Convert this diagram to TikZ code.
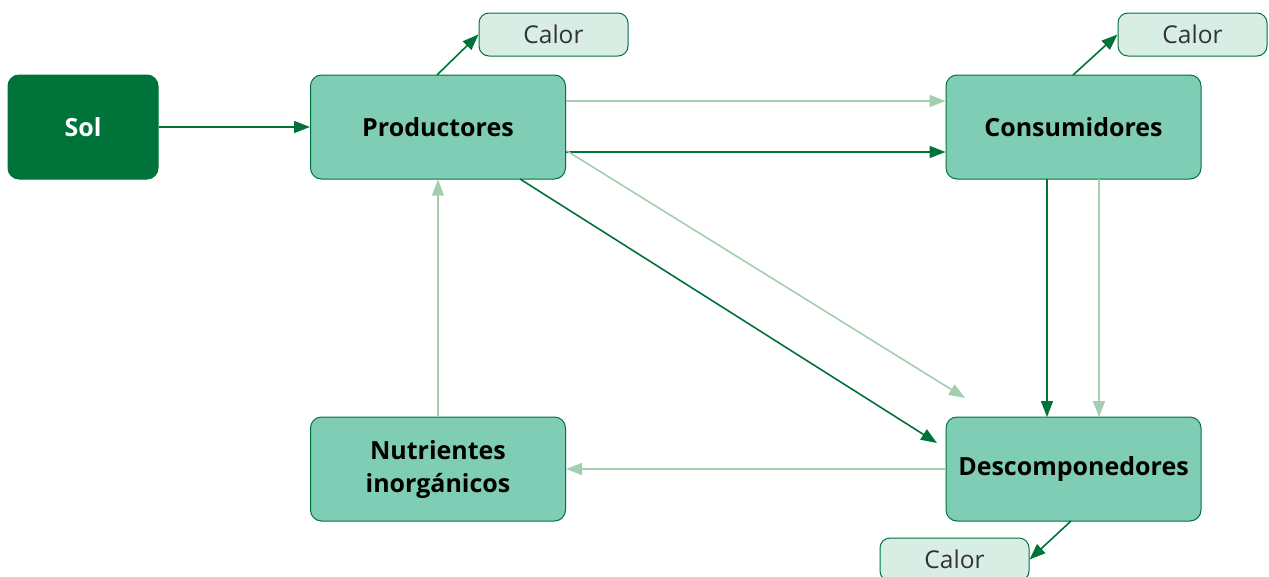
\documentclass[tikz,border=0pt]{standalone}
\usepackage{fontspec}
\setmainfont{Open Sans}
\usetikzlibrary{arrows.meta}
\definecolor{dkg}{HTML}{00733A}
\definecolor{ltg}{HTML}{A5CDB0}
\definecolor{boxf}{HTML}{80CDB5}
\definecolor{calf}{HTML}{D8EDE4}
\begin{document}
\begin{tikzpicture}[x=1pt,y=-1pt,
  mainbox/.style={draw=dkg,line width=1pt,fill=boxf,rounded corners=11pt,minimum width=255pt,minimum height=104pt,inner sep=0pt,font=\fontsize{25}{33}\selectfont\bfseries,align=center},
  solbox/.style={draw=dkg,line width=1pt,fill=dkg,text=white,rounded corners=11pt,minimum width=150pt,minimum height=104pt,inner sep=0pt,font=\fontsize{25}{30}\selectfont\bfseries},
  calbox/.style={draw=dkg,line width=1pt,fill=calf,text=black!80,rounded corners=10pt,minimum width=149pt,minimum height=43pt,inner sep=0pt,font=\fontsize{24.5}{28}\selectfont},
  dark/.style={draw=dkg,line width=1.6pt,-{Triangle[length=16pt,width=12pt]}},
  light/.style={draw=ltg,line width=1.6pt,-{Triangle[length=16pt,width=12pt]}}
]
\useasboundingbox (0,0) rectangle (1269,576);
\node[solbox] (sol) at (83,127) {Sol};
\node[mainbox] (prod) at (438,127) {Productores};
\node[mainbox] (cons) at (1073.5,127) {Consumidores};
\node[mainbox] (nut) at (438,469) {Nutrientes\\inorgánicos};
\node[mainbox] (desc) at (1073.5,469) {Descomponedores};
\node[calbox] (c1) at (553.5,34.5) {Calor};
\node[calbox] (c2) at (1192.5,34.5) {Calor};
\node[calbox] (c3) at (954.5,559.5) {Calor};
\coordinate (d1) at (965,398);
\coordinate (d2) at (937,443);
\draw[dark] (sol.east) -- (prod.west);
\draw[dark] (437,75) -- (c1.west);
\draw[dark] (1073,75) -- (c2.west);
\draw[dark] (1071,521) -- (c3.east);
\draw[light] (prod.east|-0,101) -- (cons.west|-0,101);
\draw[dark] (prod.east|-0,152) -- (cons.west|-0,152);
\draw[light] (567,151) -- (d1);
\draw[dark] (520,179) -- (d2);
\draw[dark] (1047,179) -- (1047,417);
\draw[light] (1099,179) -- (1099,417);
\draw[light] (desc.west) -- (nut.east);
\draw[light] (nut.north) -- (prod.south);
\end{tikzpicture}
\end{document}
